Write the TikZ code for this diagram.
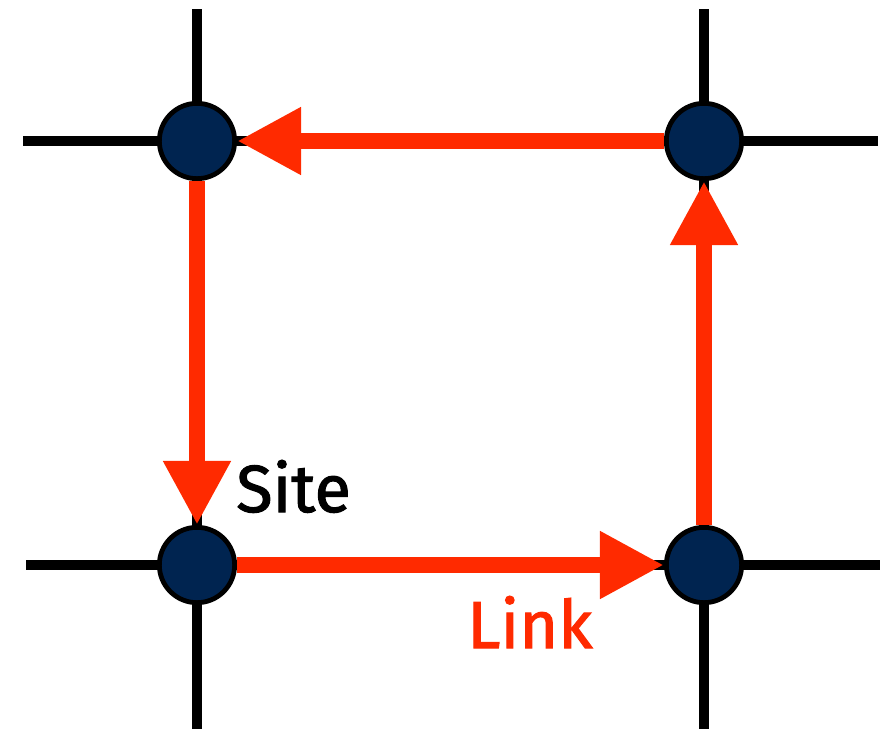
\documentclass[tikz,border=0pt]{standalone}
\usepackage{fontspec}
\setmainfont{Fira Sans}
\newfontfamily\labelfont[FakeBold=1.6]{Fira Sans}
\usetikzlibrary{arrows.meta}
\definecolor{sitenavy}{RGB}{0,36,80}
\definecolor{linkred}{RGB}{255,42,0}
\tikzset{
  gridline/.style={line width=7.9pt, black},
  site/.style={circle, draw=black, line width=3.6pt, fill=sitenavy,
               minimum size=56.5pt, inner sep=0pt},
  link/.style={line width=12pt, linkred,
               -{Triangle[length=48pt, width=47.5pt]}},
  lbl/.style={inner sep=0pt, anchor=base west,
              font=\labelfont\fontsize{50}{60}\selectfont}
}
\begin{document}
\begin{tikzpicture}[x=0.75pt, y=-0.75pt]
  \useasboundingbox (0,0) rectangle (894,729);

  % ends of the lattice lines
  \coordinate (h1w) at (23,141);   \coordinate (h1e) at (878,141);
  \coordinate (h2w) at (26,565);   \coordinate (h2e) at (880,565);
  \coordinate (v1n) at (197,9);    \coordinate (v1s) at (197,729);
  \coordinate (v2n) at (704,9);    \coordinate (v2s) at (704,729);

  \draw[gridline] (h1w) -- (h1e);
  \draw[gridline] (h2w) -- (h2e);
  \draw[gridline] (v1n) -- (v1s);
  \draw[gridline] (v2n) -- (v2s);

  % lattice sites
  \node[site] (tl) at (197,141) {};
  \node[site] (tr) at (704,141) {};
  \node[site] (bl) at (197,565) {};
  \node[site] (br) at (704,565) {};

  % oriented links around the plaquette
  \draw[link] (tr) -- (tl);
  \draw[link] (tl) -- (bl);
  \draw[link] (bl) -- (br);
  \draw[link] (br) -- (tr);

  % labels
  \node[lbl, text=black] (sitelbl) at (236,512) {Site};
  \node[lbl, text=linkred] (linklbl) at (467,648) {Link};
\end{tikzpicture}
\end{document}
